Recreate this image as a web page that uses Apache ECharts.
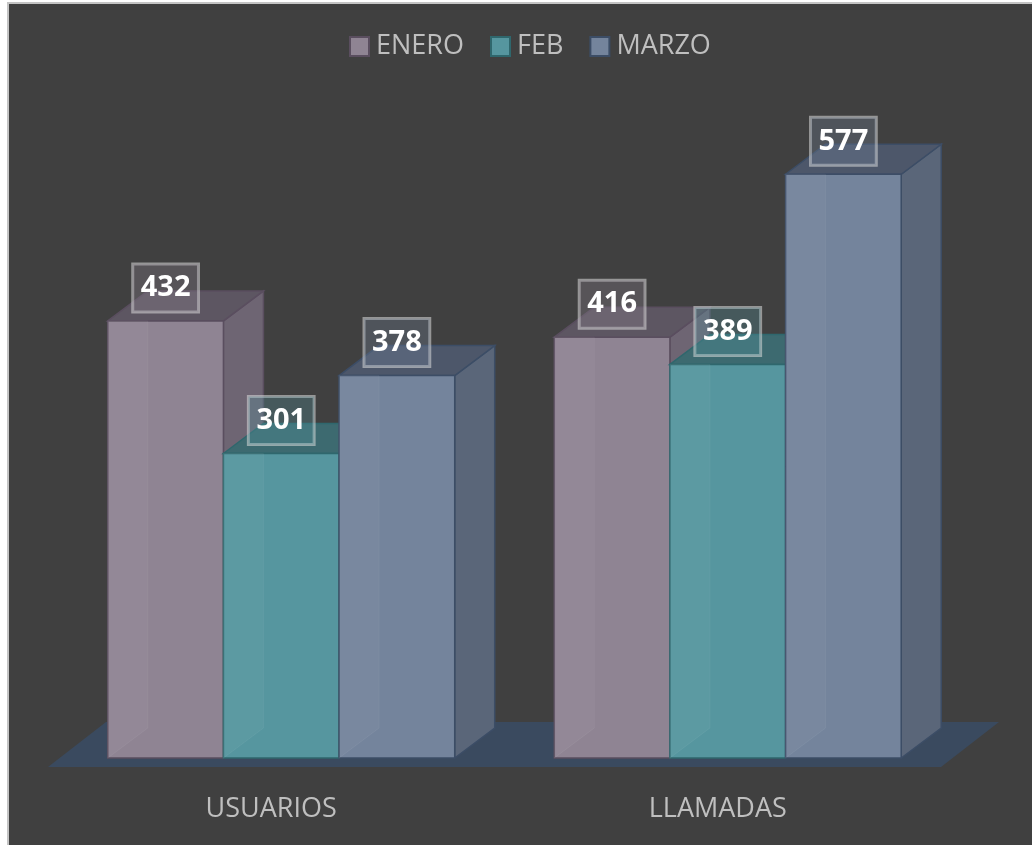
<!DOCTYPE html>
<html>
<head>
<meta charset="utf-8">
<script src="https://cdn.jsdelivr.net/npm/echarts@6/dist/echarts.min.js"></script>
<style>
  html, body { margin: 0; padding: 0; background: #fff; }
  #main { width: 1032px; height: 845px; }
</style>
</head>
<body>
<div id="main"></div>
<script>
// datos del gráfico
var categories = ['USUARIOS', 'LLAMADAS'];
var months = ['ENERO', 'FEB', 'MARZO'];
var enero = [432, 416];
var feb = [301, 389];
var marzo = [378, 577];

// colores de cada cara: frente, lado, arriba, borde
var faces = [
    { front: '#8f8493', side: '#6e6573', top: '#5d5662', edge: '#5a4e5f', box: 'rgba(143,132,147,0.30)' },
    { front: '#56969f', side: '#3f7379', top: '#3d6a70', edge: '#2f676d', box: 'rgba(86,150,159,0.30)' },
    { front: '#74849c', side: '#5a6679', top: '#4d576a', edge: '#3c4d66', box: 'rgba(116,132,156,0.30)' }
];

var DX = 40, DY = -30;   // profundidad de la barra

var myChart = echarts.init(document.getElementById('main'));

function barRenderer(si) {
    return function (params, api) {
        var ci = api.value(0), v = api.value(1);
        var base = api.coord([ci, 0]);
        var top = api.coord([ci, v]);
        var band = api.size([1, 0])[0];
        var bw = band * 0.259;
        var left = base[0] - 1.5 * bw + si * bw;
        var right = left + bw;
        var yb = base[1], yt = top[1];
        var f = faces[si];
        var z0 = si * 10;
        return {
            type: 'group',
            children: [
                {
                    type: 'polygon', z2: z0 + 1,
                    shape: { points: [[right, yt], [right + DX, yt + DY], [right + DX, yb + DY], [right, yb]] },
                    style: { fill: f.side, stroke: f.edge, lineWidth: 1.5 }
                },
                {
                    type: 'polygon', z2: z0 + 2,
                    shape: { points: [[left, yt], [left + DX, yt + DY], [right + DX, yt + DY], [right, yt]] },
                    style: { fill: f.top, stroke: f.edge, lineWidth: 1.5 }
                },
                {
                    type: 'rect', z2: z0 + 3,
                    shape: { x: left, y: yt, width: bw, height: yb - yt },
                    style: { fill: f.front, stroke: f.edge, lineWidth: 1.5 }
                },
                // cara izquierda vista a través del frente (transparencia)
                {
                    type: 'polygon', z2: z0 + 4,
                    shape: { points: [[left, yt], [left + DX, yt], [left + DX, yb + DY], [left, yb]] },
                    style: { fill: 'rgba(255,255,255,0.04)', stroke: 'rgba(255,255,255,0.05)', lineWidth: 1 }
                },
                {
                    type: 'text', z2: 200,
                    style: {
                        text: String(v),
                        x: (left + right) / 2, y: yt - 33,
                        align: 'center', verticalAlign: 'middle',
                        font: 'bold 29px "Open Sans"',
                        fill: '#ffffff',
                        backgroundColor: f.box,
                        borderColor: 'rgba(220,220,220,0.55)',
                        borderWidth: 1.5,
                        lineHeight: 30,
                        padding: [9, 8, 9, 8]
                    }
                }
            ]
        };
    };
}

function floorRenderer(params, api) {
    var cs = params.coordSys;
    var x0 = cs.x, x1 = cs.x + cs.width, yb = cs.y + cs.height;
    return {
        type: 'polygon',
        shape: { points: [[x0 - 10, yb + 9], [x1 - 10, yb + 9], [x1 + 48, yb - 36], [x0 + 48, yb - 36]] },
        style: { fill: '#3a4a5f' }
    };
}

var seriesData = [enero, feb, marzo];
var series = [{
    type: 'custom',
    name: 'floor',
    silent: true,
    clip: false,
    z: 1,
    renderItem: floorRenderer,
    data: [[0, 0]]
}];
seriesData.forEach(function (arr, si) {
    series.push({
        type: 'custom',
        name: months[si],
        clip: false,
        z: 3,
        itemStyle: { color: faces[si].front },
        encode: { x: 0, y: 1 },
        renderItem: barRenderer(si),
        data: arr.map(function (v, i) { return [i, v]; })
    });
});

myChart.setOption({
    backgroundColor: '#ffffff',
    animation: false,
    graphic: [{
        type: 'rect', z: -10, silent: true,
        shape: { x: 8, y: 3, width: 1040, height: 860 },
        style: { fill: '#404040', stroke: '#c4c4c4', lineWidth: 2 }
    }],
    legend: {
        left: 349,
        top: 33,
        padding: 0,
        itemWidth: 19,
        itemHeight: 19,
        itemGap: 26,
        icon: 'rect',
        data: months.map(function (m, si) {
            return { name: m, itemStyle: { color: faces[si].front, borderColor: faces[si].edge, borderWidth: 2 } };
        }),
        textStyle: { color: '#bfbfbf', fontSize: 27, fontFamily: 'Open Sans', padding: [0, 0, 0, 2] }
    },
    grid: { left: 58, right: 81, top: 151, bottom: 87 },
    xAxis: {
        type: 'category',
        data: categories,
        axisLine: { show: false },
        axisTick: { show: false },
        splitLine: { show: false },
        axisLabel: {
            color: '#bfbfbf', fontSize: 27, fontFamily: 'Open Sans',
            margin: 38, padding: [0, 20, 0, 0]
        }
    },
    yAxis: {
        type: 'value',
        min: 0, max: 600,
        show: false,
        splitLine: { show: false }
    },
    series: series
});
</script>
</body>
</html>
